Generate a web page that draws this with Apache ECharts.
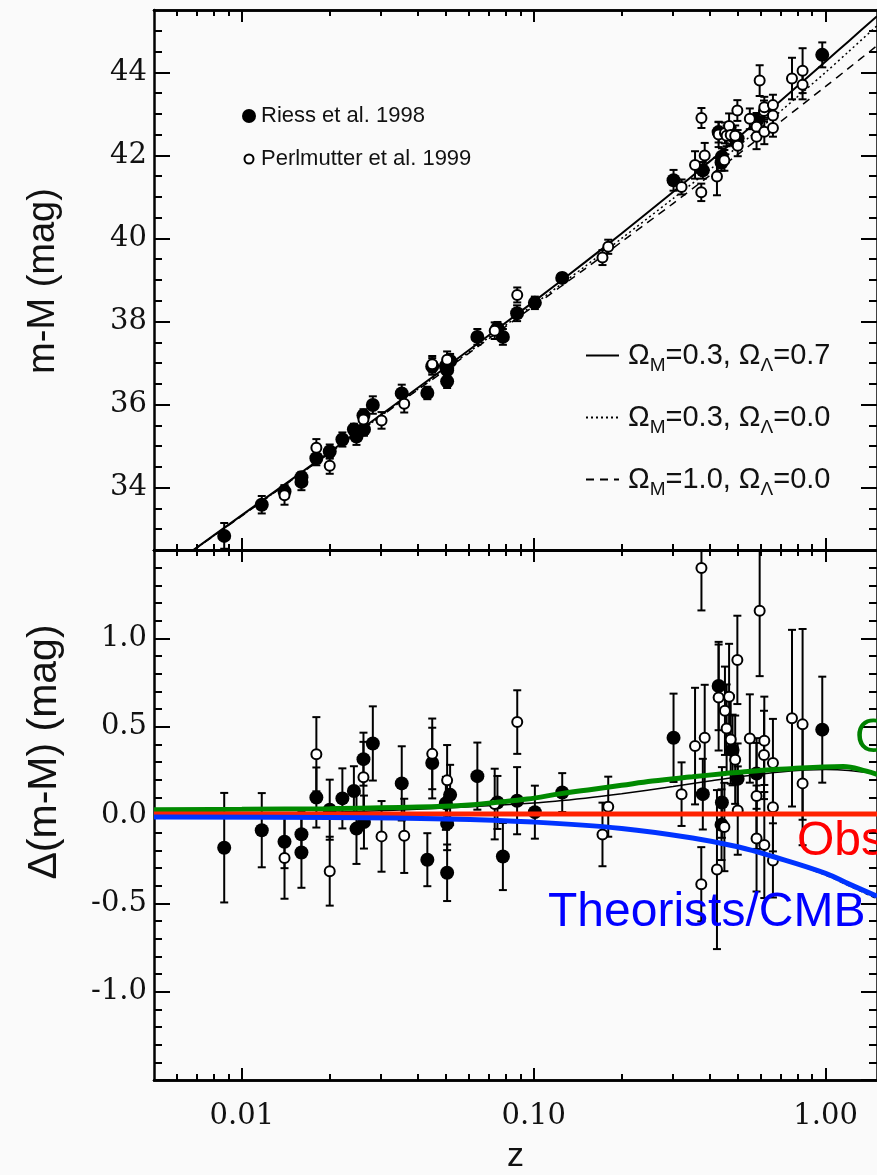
<!DOCTYPE html>
<html><head><meta charset="utf-8">
<script src="https://cdn.jsdelivr.net/npm/echarts@6/dist/echarts.min.js"></script>
<style>html,body{margin:0;padding:0;background:#fafafa}#c{width:877px;height:1175px}</style>
</head><body><div id="c"></div><script>
// ---------------- data ----------------
// Riess et al. 1998: [z, m-M, delta(m-M), error]
const riess = [
  [0.0087,32.84,-0.185,0.31],[0.0117,33.59,-0.086,0.21],[0.0140,33.91,-0.151,0.15],
  [0.0160,34.25,-0.109,0.13],[0.0160,34.14,-0.212,0.20],[0.0180,34.71,0.099,0.17],
  [0.0200,34.87,0.030,0.17],[0.0221,35.16,0.094,0.17],[0.0242,35.40,0.136,0.14],
  [0.0247,35.23,-0.077,0.20],[0.0261,35.74,0.316,0.15],[0.0262,35.40,-0.040,0.15],
  [0.0281,35.99,0.405,0.21],[0.0353,36.27,0.179,0.21],[0.0432,36.28,-0.253,0.15],
  [0.0449,36.92,0.294,0.20],[0.0500,36.93,0.066,0.15],[0.0505,36.56,-0.327,0.16],
  [0.0505,36.83,-0.049,0.15],[0.0517,37.05,0.114,0.17],[0.0641,37.63,0.220,0.19],
  [0.0751,37.84,0.071,0.15],[0.0784,37.63,-0.235,0.19],[0.0877,38.20,0.081,0.19],
  [0.1009,38.45,0.016,0.15],[0.1252,39.05,0.127,0.11],[0.3013,41.40,0.437,0.25],
  [0.3796,41.64,0.118,0.20],[0.4300,42.56,0.730,0.25],[0.4400,41.83,-0.055,0.20],
  [0.4413,41.97,0.071,0.20],[0.4800,42.47,0.368,0.20],[0.4995,42.41,0.205,0.20],
  [0.5800,42.82,0.235,0.20],[0.9740,44.42,0.483,0.30]
];
// Perlmutter et al. 1999: [z, m-M, delta(m-M), error]
const perlmutter = [
  [0.0140,33.82,-0.244,0.23],[0.0180,34.96,0.344,0.21],[0.0200,34.53,-0.318,0.195],
  [0.0261,35.64,0.214,0.20],[0.0301,35.62,-0.121,0.20],[0.0360,36.02,-0.118,0.21],
  [0.0449,36.97,0.346,0.20],[0.0505,37.08,0.196,0.20],[0.0735,37.78,0.062,0.20],
  [0.0878,38.64,0.526,0.18],[0.172,39.54,-0.110,0.18],[0.180,39.80,0.047,0.17],
  [0.321,41.24,0.118,0.18],[0.357,41.77,0.390,0.33],[0.375,41.11,-0.392,0.21],
  [0.3755,42.90,1.398,0.24],[0.3853,42.00,0.437,0.30],[0.4244,41.49,-0.309,0.45],
  [0.430,42.50,0.665,0.30],[0.450,41.88,-0.068,0.25],[0.452,42.54,0.590,0.25],
  [0.458,42.47,0.489,0.25],[0.467,42.71,0.669,0.30],[0.473,42.49,0.427,0.25],
  [0.490,42.47,0.313,0.25],[0.4985,43.08,0.878,0.25],[0.500,42.23,0.025,0.25],
  [0.550,42.88,0.433,0.25],[0.580,42.69,0.108,0.30],[0.580,42.45,-0.133,0.30],
  [0.5944,43.80,1.156,0.37],[0.615,43.07,0.340,0.25],[0.6166,43.16,0.420,0.25],
  [0.6166,42.57,-0.170,0.30],[0.660,43.21,0.294,0.25],[0.660,42.96,0.044,0.25],
  [0.660,42.66,-0.257,0.21],[0.767,43.85,0.548,0.50],[0.834,44.04,0.513,0.54],
  [0.834,43.70,0.179,0.35]
];
// model curves, upper panel
const modelZ       = [0.0068,0.01,0.02,0.05,0.1,0.15,0.2,0.3,0.4,0.5,0.7,1.0,1.2,1.5];
const muLambda     = [32.49,33.34,34.86,36.90,38.48,39.43,40.12,41.12,41.85,42.42,43.31,44.26,44.75,45.35];
const muOpen       = [32.49,33.33,34.84,36.86,38.41,39.33,40.00,40.96,41.65,42.21,43.06,44.00,44.50,45.12];
const muEdS        = [32.49,33.32,34.84,36.84,38.37,39.27,39.92,40.84,41.51,42.02,42.81,43.66,44.10,44.64];
// model curves, lower panel (thin black)
const resZ         = [0.005,0.01,0.02,0.05,0.1,0.15,0.2,0.3,0.4,0.5,0.7,1.0,1.2,1.5];
const resLambda    = [0.004,0.008,0.015,0.04,0.068,0.095,0.12,0.161,0.192,0.215,0.244,0.257,0.252,0.234];
const resEdS       = [-0.002,-0.004,-0.008,-0.017,-0.038,-0.058,-0.076,-0.112,-0.148,-0.183,-0.25,-0.34,-0.40,-0.475];
const resOpenZ     = [0.005,1.5];
const resOpen      = [0,0];
// thick coloured curves
const greenZ = [0.005,0.01,0.02,0.04,0.06,0.0736,0.095,0.124,0.16,0.2,0.255,0.35,0.453,0.585,0.76,0.98,1.15,1.38,1.5];
const greenD = [0.03,0.032,0.036,0.045,0.057,0.071,0.09,0.121,0.146,0.168,0.192,0.216,0.235,0.251,0.262,0.272,0.275,0.248,0.23];
const redZ   = [0.005,1.5];
const redD   = [0.005,0.005];
const blueZ  = [0.005,0.02,0.05,0.1,0.2,0.35,0.5,0.66,1.0,1.2,1.5];
const blueD  = [-0.012,-0.014,-0.022,-0.04,-0.076,-0.13,-0.18,-0.235,-0.33,-0.39,-0.46];
// ticks and labels
const xMajorTicks = [0.01,0.1,1];
const xTickLabels = ['0.01','0.10','1.00'];
const xMinorTicks = [0.006,0.007,0.008,0.009,0.02,0.03,0.04,0.05,0.06,0.07,0.08,0.09,0.2,0.3,0.4,0.5,0.6,0.7,0.8,0.9];
const topMajorTicks = [34,36,38,40,42,44];
const topMinorTicks = [33,33.5,34.5,35,35.5,36.5,37,37.5,38.5,39,39.5,40.5,41,41.5,42.5,43,43.5,44.5,45];
const bottomTickLabels = [-1,-0.5,0,0.5,1];
const seriesNames = ['Riess et al. 1998','Perlmutter et al. 1999'];
const modelNames = ['ΩM=0.3, ΩΛ=0.7','ΩM=0.3, ΩΛ=0.0','ΩM=1.0, ΩΛ=0.0'];
const modelRich = ['{t|Ω}{s|M}{t|=0.3, Ω}{s|Λ}{t|=0.7}','{t|Ω}{s|M}{t|=0.3, Ω}{s|Λ}{t|=0.0}','{t|Ω}{s|M}{t|=1.0, Ω}{s|Λ}{t|=0.0}'];
const annotations = ['Theorists/CMB','Observers','Observations'];
const axisTitles = ['m-M (mag)','Δ(m-M) (mag)','z'];

// ---------------- chart ----------------
const BLACK = '#000';
const LBL = {fontFamily:'DejaVu Serif', fontSize:29, color:'#111'};
function xAx(grid, pos, values, len, withLabels){
  return {
    type:'log', logBase:10, gridIndex:grid, position:pos, min:0.005, max:1.5,
    axisLine:{show:true, onZero:false, lineStyle:{color:BLACK, width:2.5}},
    axisTick:{show:true, inside:true, length:len, customValues:values, lineStyle:{color:BLACK, width:2}},
    axisLabel: withLabels ? Object.assign({show:true, customValues:xMajorTicks, margin:22,
      formatter:(v)=>{const i = xMajorTicks.findIndex(t=>Math.abs(Math.log10(t)-Math.log10(v))<1e-6); return i>=0 ? xTickLabels[i] : '';}}, LBL) : {show:false},
    splitLine:{show:false}, minorTick:{show:false}, minorSplitLine:{show:false},
    name: withLabels ? axisTitles[2] : '', nameLocation:'middle', nameGap:60,
    nameTextStyle:{fontFamily:'Liberation Sans', fontSize:34, color:'#111'}
  };
}
function yTop(pos, values, len, withLabels, line){
  return {
    type:'value', gridIndex:0, position:pos, min:32.5, max:45.5,
    axisLine:{show:line, onZero:false, lineStyle:{color:BLACK, width:2.5}},
    axisTick:{show:true, inside:true, length:len, customValues:values, lineStyle:{color:BLACK, width:2}},
    axisLabel: withLabels ? Object.assign({show:true, customValues:topMajorTicks, margin:7, formatter:(v)=>String(v)}, LBL) : {show:false},
    splitLine:{show:false}
  };
}
function yBot(pos, withLabels){
  return {
    type:'value', gridIndex:1, position:pos, min:-1.5, max:1.5, interval:0.5,
    axisLine:{show:true, onZero:false, lineStyle:{color:BLACK, width:2.5}},
    axisTick:{show:true, inside:true, length:16, lineStyle:{color:BLACK, width:2}},
    minorTick:{show:true, splitNumber:5, length:8, lineStyle:{color:BLACK, width:2}},
    axisLabel: withLabels ? Object.assign({show:true, customValues:bottomTickLabels, margin:7, formatter:(v)=>v.toFixed(1)}, LBL) : {show:false},
    splitLine:{show:false}, minorSplitLine:{show:false}
  };
}
function errRender(params, api){
  const z = api.value(0), v = api.value(1), e = api.value(2);
  const a = api.coord([z, v+e]), b = api.coord([z, v-e]);
  const c = 4, st = {stroke:BLACK, lineWidth:2};
  return {type:'group', children:[
    {type:'line', shape:{x1:a[0],y1:a[1],x2:b[0],y2:b[1]}, style:st},
    {type:'line', shape:{x1:a[0]-c,y1:a[1],x2:a[0]+c,y2:a[1]}, style:st},
    {type:'line', shape:{x1:b[0]-c,y1:b[1],x2:b[0]+c,y2:b[1]}, style:st}
  ]};
}
const pairs = (xs, ys) => xs.map((x,i)=>[x, ys[i]]);
const topPts = (arr) => arr.map(r=>[r[0], r[1]]);
const botPts = (arr) => arr.map(r=>[r[0], r[2]]);
const topErr = (arr) => arr.map(r=>[r[0], r[1], r[3]]);
const botErr = (arr) => arr.map(r=>[r[0], r[2], r[3]]);
const filledStyle = {color:BLACK, opacity:1};
const openStyle = {color:'#fff', borderColor:BLACK, borderWidth:2, opacity:1};
const smallCircleIcon = 'path://M0,0M14,14M2.5,7A4.5,4.5,0,1,1,11.5,7A4.5,4.5,0,1,1,2.5,7Z';

const option = {
  animation:false,
  backgroundColor:'#fafafa',
  textStyle:{fontFamily:'Liberation Sans'},
  grid:[
    {left:154, top:10, width:733, height:540},
    {left:154, top:550, width:733, height:539}
  ],
  xAxis:[
    xAx(0,'bottom',xMajorTicks,12,false), xAx(0,'bottom',xMinorTicks,6,false),
    xAx(0,'top',xMajorTicks,12,false), xAx(0,'top',xMinorTicks,6,false),
    xAx(1,'bottom',xMajorTicks,12,true), xAx(1,'bottom',xMinorTicks,6,false),
    xAx(1,'top',xMajorTicks,12,false), xAx(1,'top',xMinorTicks,6,false)
  ],
  yAxis:[
    yTop('left',topMajorTicks,16,true,true), yTop('left',topMinorTicks,8,false,false),
    yTop('right',topMajorTicks,16,false,true), yTop('right',topMinorTicks,8,false,false),
    yBot('left',true), yBot('right',false)
  ],
  legend:[
    {data:[{name:seriesNames[0], icon:'circle'}, {name:seriesNames[1], icon:smallCircleIcon}],
     selectedMode:false, orient:'vertical', left:236, top:100,
     itemWidth:14, itemHeight:14, itemGap:21,
     textStyle:{fontFamily:'Liberation Sans', fontSize:22, color:'#111'}},
    {data:modelNames, selectedMode:false, orient:'vertical', left:580, top:336,
     itemWidth:33, itemHeight:14, itemGap:28,
     itemStyle:{opacity:0},
     formatter:(n)=>modelRich[modelNames.indexOf(n)],
     textStyle:{fontFamily:'Liberation Sans', fontSize:29, color:'#111', padding:[0,0,0,4],
       rich:{t:{fontFamily:'Liberation Sans', fontSize:29, color:'#111'},
             s:{fontFamily:'Liberation Sans', fontSize:19, color:'#111', padding:[20,0,0,0]}}}}
  ],
  graphic:[
    {type:'text', x:44, y:281, rotation:Math.PI/2, z:100,
     style:{text:axisTitles[0], font:'38px "Liberation Sans"', fill:'#111', align:'center', verticalAlign:'middle', textAlign:'center', textVerticalAlign:'middle'}},
    {type:'text', x:45, y:752, rotation:Math.PI/2, z:100,
     style:{text:axisTitles[1], font:'41px "Liberation Sans"', fill:'#111', align:'center', verticalAlign:'middle', textAlign:'center', textVerticalAlign:'middle'}},
    {type:'text', x:548, y:913, z:100,
     style:{text:annotations[0], font:'48px "Liberation Sans"', fill:'#0000ff', align:'left', verticalAlign:'middle', textAlign:'left', textVerticalAlign:'middle'}},
    {type:'text', x:797, y:842, z:100,
     style:{text:annotations[1], font:'48px "Liberation Sans"', fill:'#ff0000', align:'left', verticalAlign:'middle', textAlign:'left', textVerticalAlign:'middle'}},
    {type:'text', x:855, y:739, z:100,
     style:{text:annotations[2], font:'48px "Liberation Sans"', fill:'#008000', align:'left', verticalAlign:'middle', textAlign:'left', textVerticalAlign:'middle'}}
  ],
  series:[
    // upper panel models
    {name:modelNames[0], type:'line', xAxisIndex:0, yAxisIndex:0, data:pairs(modelZ,muLambda), symbol:'none', smooth:0.3,
     lineStyle:{color:BLACK, width:2}, itemStyle:{color:BLACK}, z:2},
    {name:modelNames[1], type:'line', xAxisIndex:0, yAxisIndex:0, data:pairs(modelZ,muOpen), symbol:'none', smooth:0.3,
     lineStyle:{color:BLACK, width:1.5, type:[2,3]}, itemStyle:{color:BLACK}, z:2},
    {name:modelNames[2], type:'line', xAxisIndex:0, yAxisIndex:0, data:pairs(modelZ,muEdS), symbol:'none', smooth:0.3,
     lineStyle:{color:BLACK, width:1.5, type:[8,6]}, itemStyle:{color:BLACK}, z:2},
    {name:'errTop', type:'custom', xAxisIndex:0, yAxisIndex:0, renderItem:errRender, clip:true,
     data:topErr(riess).concat(topErr(perlmutter)), z:3},
    {name:seriesNames[0], type:'scatter', xAxisIndex:0, yAxisIndex:0, data:topPts(riess), symbol:'circle', symbolSize:14, itemStyle:filledStyle, z:4},
    {name:seriesNames[1], type:'scatter', xAxisIndex:0, yAxisIndex:0, data:topPts(perlmutter), symbol:'circle', symbolSize:10, itemStyle:openStyle, z:5},
    // lower panel thin models
    {name:'resLambda', type:'line', xAxisIndex:4, yAxisIndex:4, data:pairs(resZ,resLambda), symbol:'none', smooth:0.3,
     lineStyle:{color:BLACK, width:1.5}, z:2},
    {name:'resEdS', type:'line', xAxisIndex:4, yAxisIndex:4, data:pairs(resZ,resEdS), symbol:'none', smooth:0.3,
     lineStyle:{color:BLACK, width:1.5, type:[4,3]}, z:2},
    {name:'resOpen', type:'line', xAxisIndex:4, yAxisIndex:4, data:pairs(resOpenZ,resOpen), symbol:'none',
     lineStyle:{color:BLACK, width:1.5, type:[2,3]}, z:2},
    {name:'errBot', type:'custom', xAxisIndex:4, yAxisIndex:4, renderItem:errRender, clip:true,
     data:botErr(riess).concat(botErr(perlmutter)), z:3},
    {name:seriesNames[0], type:'scatter', xAxisIndex:4, yAxisIndex:4, data:botPts(riess), symbol:'circle', symbolSize:14, itemStyle:filledStyle, z:4},
    {name:seriesNames[1], type:'scatter', xAxisIndex:4, yAxisIndex:4, data:botPts(perlmutter), symbol:'circle', symbolSize:10, itemStyle:openStyle, z:5},
    // thick coloured curves
    {name:'green', type:'line', xAxisIndex:4, yAxisIndex:4, data:pairs(greenZ,greenD), symbol:'none', smooth:0.4,
     lineStyle:{color:'#008a00', width:5}, z:6},
    {name:'red', type:'line', xAxisIndex:4, yAxisIndex:4, data:pairs(redZ,redD), symbol:'none',
     lineStyle:{color:'#ff2200', width:5}, z:6},
    {name:'blue', type:'line', xAxisIndex:4, yAxisIndex:4, data:pairs(blueZ,blueD), symbol:'none', smooth:0.4,
     lineStyle:{color:'#0033ff', width:5}, z:6}
  ]
};
const chart = echarts.init(document.getElementById('c'), null, {renderer:'canvas'});
chart.setOption(option);
</script></body></html>
